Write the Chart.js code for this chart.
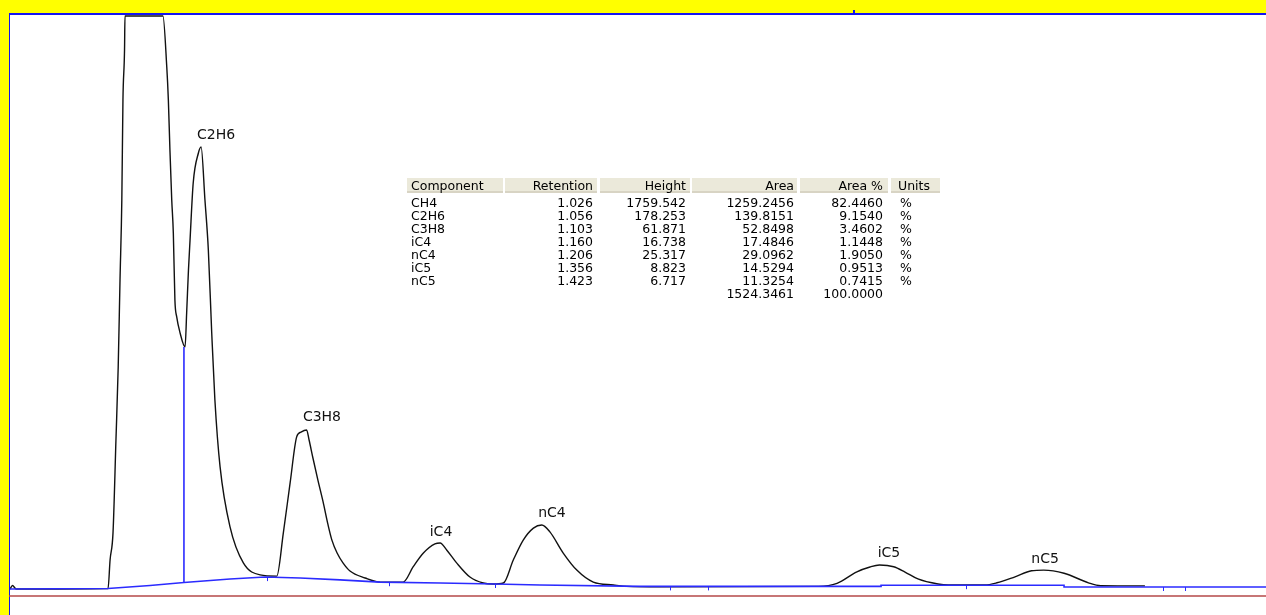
<!DOCTYPE html>
<html>
<head>
<meta charset="utf-8">
<script src="https://cdn.jsdelivr.net/npm/chart.js@4"></script>
<style>
  html, body { margin: 0; padding: 0; background: #ffff00; overflow: hidden; }
  #crom { display: block; }
</style>
</head>
<body>
<canvas id="crom" width="1266" height="615"></canvas>
<script>
const traceTime = [0.9710,0.9721,0.9737,1.0144,1.0153,1.0166,1.0179,1.0189,1.0197,1.0205,1.0210,1.0217,1.0219,1.0387,1.0404,1.0411,1.0418,1.0426,1.0433,1.0440,1.0448,1.0463,1.0485,1.0492,1.0500,1.0507,1.0521,1.0544,1.0556,1.0573,1.0588,1.0603,1.0617,1.0640,1.0684,1.0743,1.0817,1.0891,1.0920,1.0950,1.0979,1.0998,1.1023,1.1034,1.1051,1.1073,1.1096,1.1118,1.1135,1.1158,1.1184,1.1215,1.1282,1.1348,1.1450,1.1495,1.1540,1.1591,1.1614,1.1643,1.1687,1.1746,1.1805,1.1848,1.1894,1.1938,1.1982,1.2027,1.2064,1.2100,1.2159,1.2219,1.2292,1.2381,1.2440,1.2587,1.3290,1.3371,1.3459,1.3517,1.3559,1.3622,1.3672,1.3729,1.3818,1.3864,1.4026,1.4079,1.4159,1.4232,1.4286,1.4376,1.4484,1.4538,1.4734];
const traceSignal = [2.9,4.4,2.9,3.1,15.0,26.3,65.0,95.4,131.7,165.0,206.7,227.5,241.7,241.7,220.4,206.7,185.8,165.0,151.3,123.3,116.3,109.6,103.8,117.9,135.8,148.3,172.1,184.6,187.1,165.0,144.2,109.6,81.7,53.8,28.8,13.8,8.8,8.3,26.3,47.1,66.3,68.3,69.2,65.0,57.5,48.3,39.2,29.6,23.3,17.9,13.8,10.4,7.5,5.8,5.8,12.2,17.9,21.7,22.1,19.2,13.8,7.9,5.4,5.0,5.4,15.0,23.3,28.3,29.6,26.7,17.9,10.8,5.8,4.6,4.0,3.8,4.0,5.3,10.1,12.1,12.9,12.2,10.0,7.1,5.0,4.6,4.6,5.5,8.0,10.5,10.8,9.5,5.5,4.3,4.2];

// Línea base de integración (azul)
const baseTime = [0.9710,1.0144,1.0330,1.0480,1.0684,1.0839,1.0994,1.1171,1.1348,1.1614,1.1857,1.2056,1.2499,1.3566,1.3566,1.4376,1.4376,1.5270];
const baseSignal = [2.9,3.1,4.4,5.6,7.1,7.9,7.5,6.7,5.8,5.4,5.0,4.6,4.0,4.0,4.5,4.5,3.75,3.75];

// Corte vertical entre CH4 y C2H6
const dropTime = [1.0480, 1.0480];
const dropSignal = [5.6, 103.8];

// Marcas de eventos sobre la línea base y en el borde superior
const eventTimes = [1.0848,1.1388,1.1857,1.2632,1.2800,1.3942,1.4814,1.4911];
const topMarkTimes = [1.3446];

// Etiquetas de picos
const peakNames = ["C2H6","C3H8","iC4","nC4","iC5","nC5"];
const labelTime = [1.0622,1.1091,1.1618,1.2109,1.3601,1.4292];
const labelLevel = [192.1,74.6,26.7,34.6,17.9,15.4];

// Tabla de resultados
const components = ["CH4","C2H6","C3H8","iC4","nC4","iC5","nC5"];
const retention = ["1.026","1.056","1.103","1.160","1.206","1.356","1.423"];
const heights = ["1759.542","178.253","61.871","16.738","25.317","8.823","6.717"];
const areas = ["1259.2456","139.8151","52.8498","17.4846","29.0962","14.5294","11.3254"];
const areaPct = ["82.4460","9.1540","3.4602","1.1448","1.9050","0.9513","0.7415"];
const units = ["%","%","%","%","%","%","%"];
const totalArea = "1524.3461";
const totalPct = "100.0000";
const headers = ["Component","Retention","Height","Area","Area %","Units"];

const X_MIN = 0.971, X_MAX = 1.527, Y_MIN = 0, Y_MAX = 242.1;

const pts = (xs, ys) => xs.map((x, i) => ({ x: x, y: ys[i] }));

// interpolación sobre la línea base para colocar las marcas
function baseAt(t) {
  for (let i = 0; i < baseTime.length - 1; i++) {
    if (t >= baseTime[i] && t <= baseTime[i + 1]) {
      const span = baseTime[i + 1] - baseTime[i];
      if (span === 0) return baseSignal[i + 1];
      return baseSignal[i] + (baseSignal[i + 1] - baseSignal[i]) * (t - baseTime[i]) / span;
    }
  }
  return baseSignal[baseSignal.length - 1];
}

const marco = {
  id: "marco",
  beforeDraw(chart) {
    const ctx = chart.ctx, a = chart.chartArea;
    ctx.save();
    ctx.fillStyle = "#ffff00";
    ctx.fillRect(0, 0, chart.width, chart.height);
    ctx.fillStyle = "#ffffff";
    ctx.fillRect(a.left - 1, a.top - 1, chart.width, chart.height);
    // borde azul superior e izquierdo
    ctx.fillStyle = "#1414f0";
    ctx.fillRect(a.left - 1, a.top - 2, chart.width, 2);
    ctx.fillRect(a.left - 1, a.top - 2, 1, chart.height);
    // marca superior
    topMarkTimes.forEach(t => {
      const x = chart.scales.x.getPixelForValue(t);
      ctx.fillRect(Math.round(x) - 1, a.top - 5, 2, 4);
    });
    // línea roja inferior
    ctx.strokeStyle = "#b54848";
    ctx.lineWidth = 1.5;
    ctx.beginPath();
    ctx.moveTo(a.left - 1, a.bottom);
    ctx.lineTo(chart.width, a.bottom);
    ctx.stroke();
    ctx.restore();
  },
  afterDatasetsDraw(chart) {
    const ctx = chart.ctx, sx = chart.scales.x, sy = chart.scales.y;
    ctx.save();
    // marcas de eventos
    ctx.strokeStyle = "#2b2bff";
    ctx.lineWidth = 1;
    eventTimes.forEach(t => {
      const x = Math.round(sx.getPixelForValue(t)) + 0.5;
      const y = sy.getPixelForValue(baseAt(t));
      ctx.beginPath();
      ctx.moveTo(x, y);
      ctx.lineTo(x, y + 4);
      ctx.stroke();
    });
    // nombres de picos
    ctx.fillStyle = "#111";
    ctx.font = '14px "DejaVu Sans"';
    ctx.textAlign = "center";
    ctx.textBaseline = "middle";
    peakNames.forEach((n, i) => {
      ctx.fillText(n, sx.getPixelForValue(labelTime[i]), sy.getPixelForValue(labelLevel[i]));
    });
    ctx.restore();
  },
  afterDraw(chart) {
    const ctx = chart.ctx;
    // tabla de componentes
    const cells = [[407,503],[505,597],[600,690],[692,797],[800,888],[891,940]];
    const anchor = [[411,"left"],[593,"right"],[686,"right"],[794,"right"],[883,"right"],[898,"left"]];
    const headTop = 178, headBottom = 193, firstBase = 206.5, rowStep = 13;
    ctx.save();
    cells.forEach(c => {
      ctx.fillStyle = "#ebe9da";
      ctx.fillRect(c[0], headTop, c[1] - c[0], headBottom - headTop);
      ctx.fillStyle = "#d8d4c4";
      ctx.fillRect(c[0], headBottom - 2, c[1] - c[0], 2);
    });
    ctx.font = '12.5px "DejaVu Sans"';
    ctx.fillStyle = "#000";
    ctx.textBaseline = "alphabetic";
    headers.forEach((h, j) => {
      ctx.textAlign = anchor[j][1];
      ctx.fillText(h, anchor[j][0], 190);
    });
    const cols = [components, retention, heights, areas, areaPct, units];
    components.forEach((_, i) => {
      const y = firstBase + i * rowStep;
      cols.forEach((col, j) => {
        ctx.textAlign = anchor[j][1];
        ctx.fillText(col[i], anchor[j][0] + (j === 5 ? 2 : 0), y);
      });
    });
    const yt = firstBase + components.length * rowStep;
    ctx.textAlign = "right";
    ctx.fillText(totalArea, anchor[3][0], yt);
    ctx.fillText(totalPct, anchor[4][0], yt);
    ctx.restore();
  }
};

new Chart(document.getElementById("crom"), {
  type: "line",
  data: {
    datasets: [
      {
        label: "Línea base",
        data: pts(baseTime, baseSignal),
        borderColor: "#2b2bff",
        borderWidth: 1.6,
        pointRadius: 0,
        tension: 0,
        order: 0
      },
      {
        label: "Corte",
        data: pts(dropTime, dropSignal),
        borderColor: "#2b2bff",
        borderWidth: 1.6,
        pointRadius: 0,
        order: 1
      },
      {
        label: "Señal",
        data: pts(traceTime, traceSignal),
        borderColor: "#111111",
        borderWidth: 1.4,
        pointRadius: 0,
        cubicInterpolationMode: "monotone",
        order: 2
      }
    ]
  },
  options: {
    responsive: false,
    animation: false,
    devicePixelRatio: 1,
    layout: { padding: { left: 10, top: 15, right: 0, bottom: 19 } },
    plugins: { legend: { display: false }, tooltip: { enabled: false } },
    scales: {
      x: { type: "linear", min: X_MIN, max: X_MAX, display: false },
      y: { type: "linear", min: Y_MIN, max: Y_MAX, display: false }
    }
  },
  plugins: [marco]
});
</script>
</body>
</html>
